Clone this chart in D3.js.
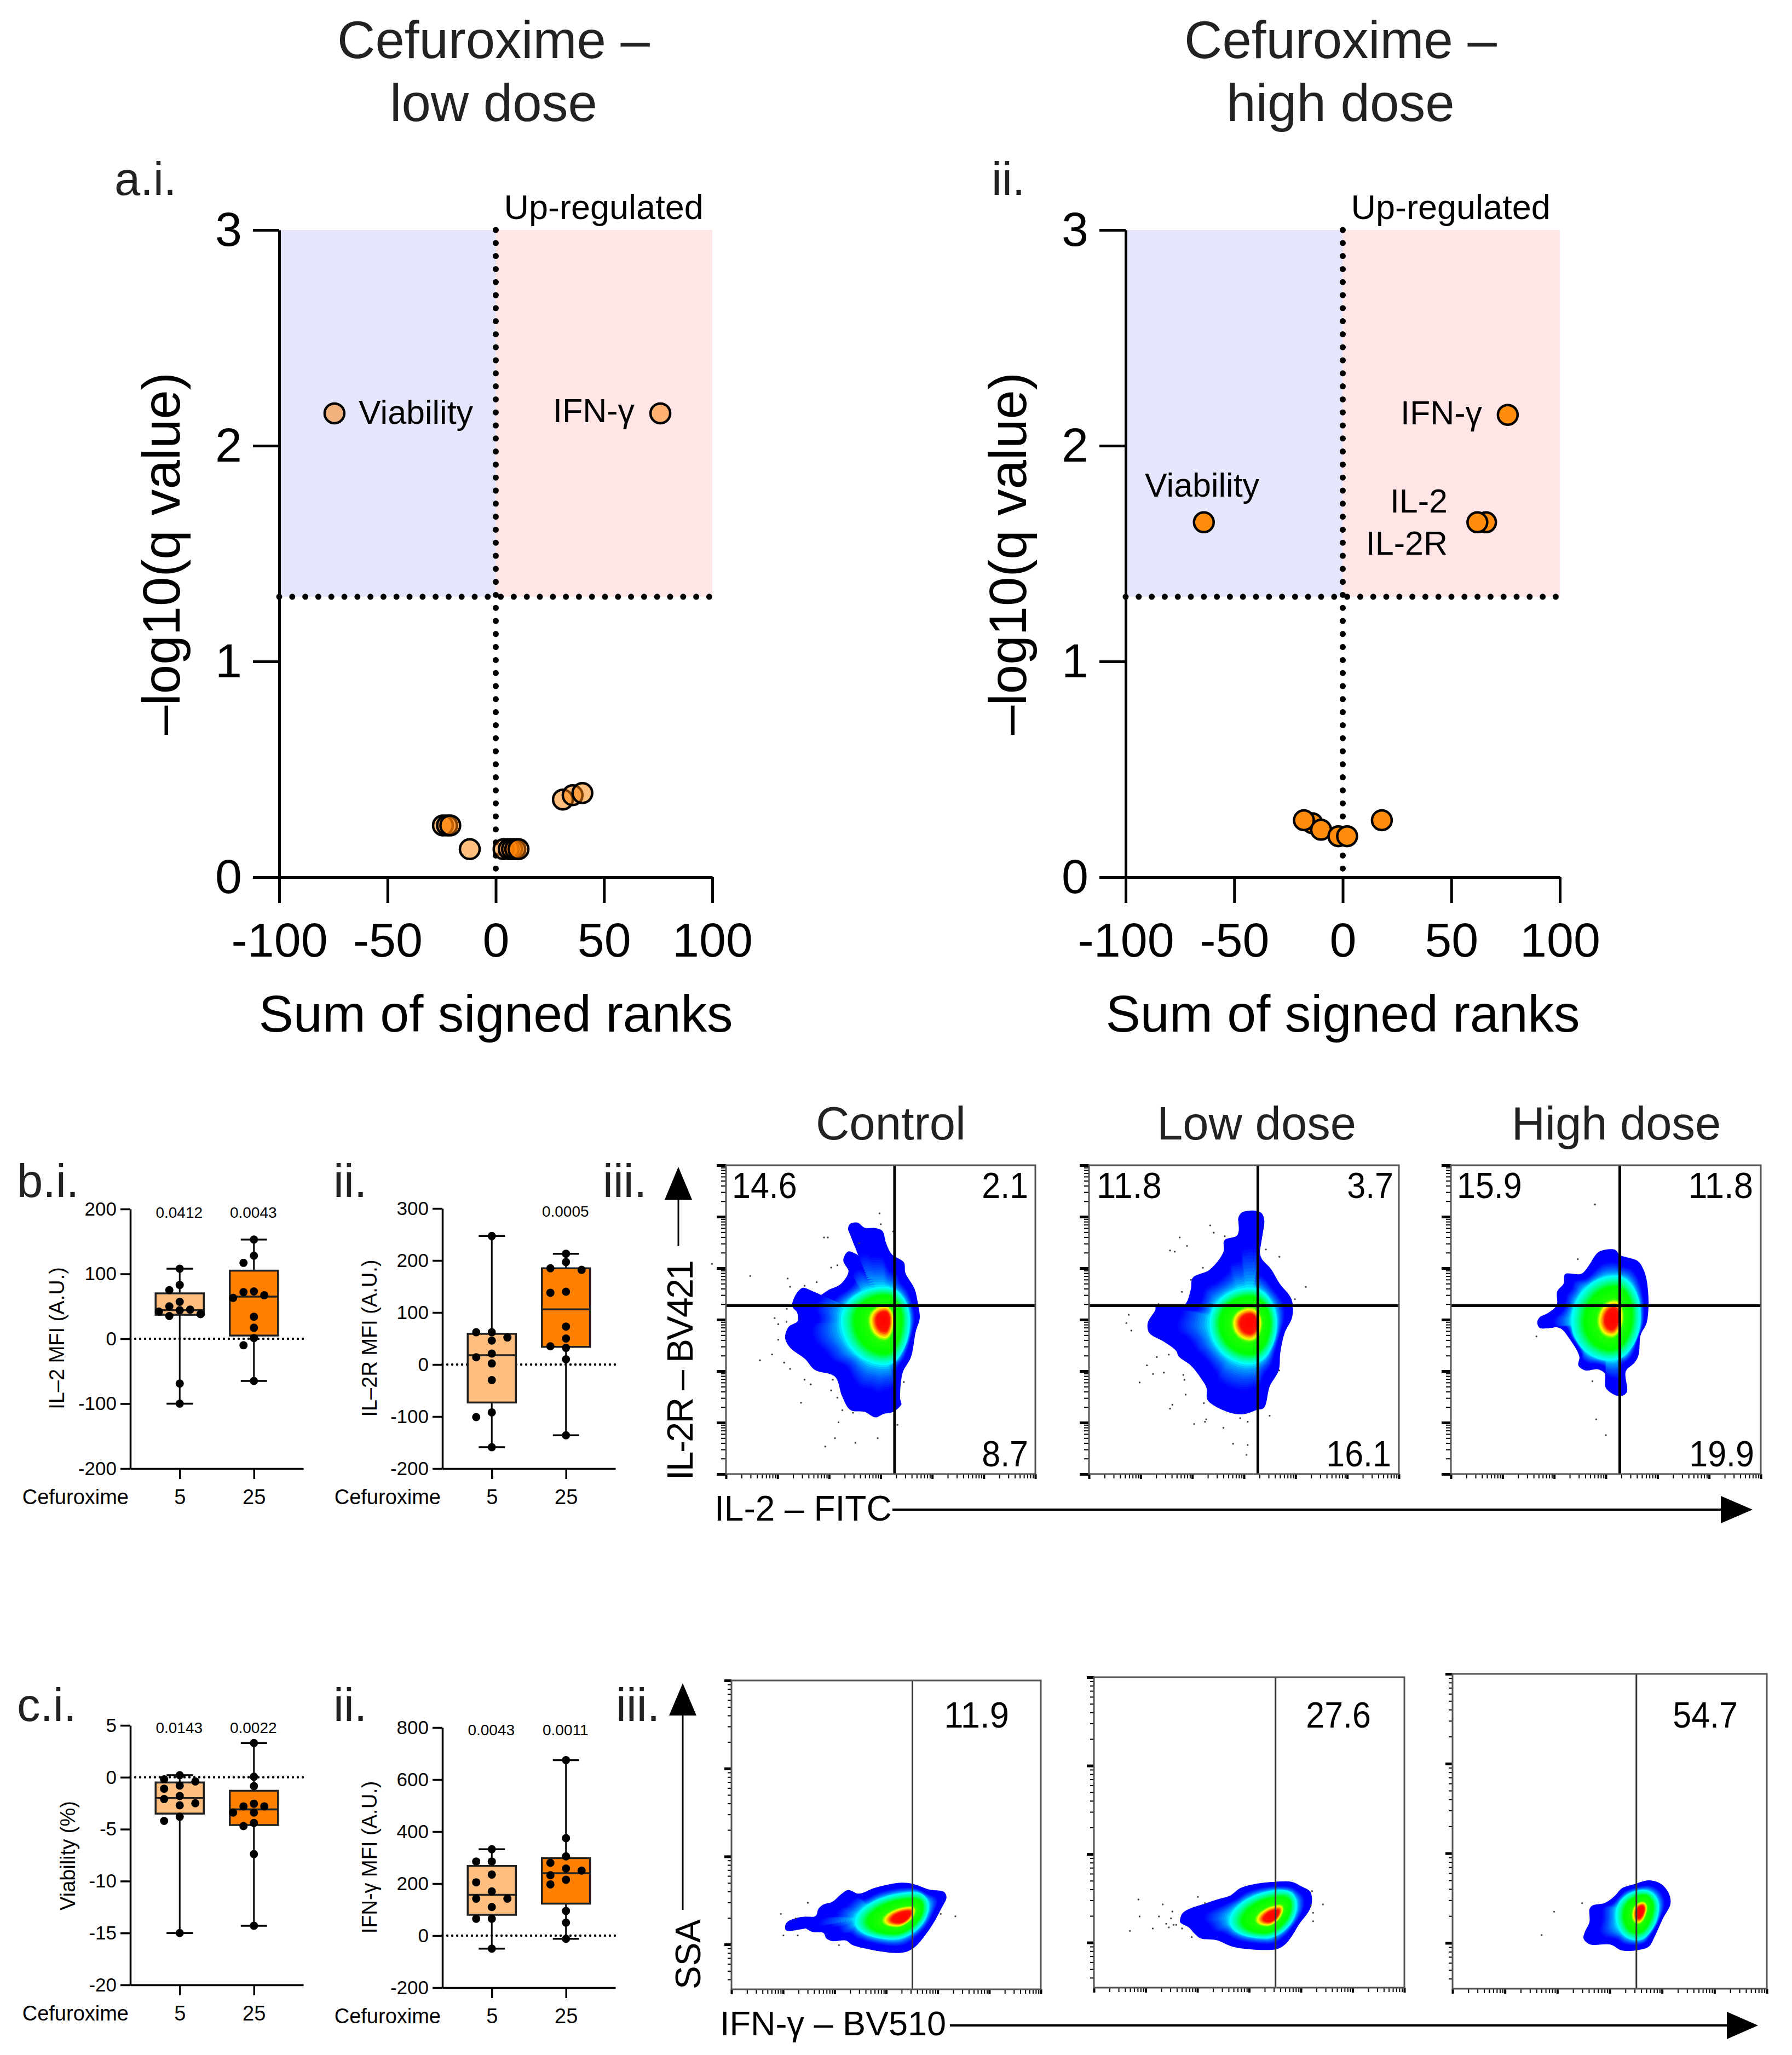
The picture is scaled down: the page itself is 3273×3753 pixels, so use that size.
<!DOCTYPE html>
<html>
<head>
<meta charset="utf-8">
<title>Cefuroxime</title>
<script src="https://cdn.jsdelivr.net/npm/d3@7"></script>
<style>
  body { margin: 0; background: #fff; }
  text { font-family: "Liberation Sans", Arial, sans-serif; fill: #000; }
  .domainless .domain { display: none; }
</style>
</head>
<body>
<svg id="fig" width="3273" height="3753"></svg>
<script>
// --- volcano plots
var lowRanks  = [-74.5, 76, -24.4, -22.5, -21, -12, 3.6, 6, 7.5, 9, 10.5, 31, 35.5, 40];
var lowQ      = [2.15, 2.15, 0.24, 0.24, 0.24, 0.13, 0.13, 0.13, 0.13, 0.13, 0.13, 0.36, 0.38, 0.39];
var highRanks = [-64, 76, 66, 62, -14, -17.9, -10, -2, 2, 18];
var highQ     = [1.645, 2.143, 1.645, 1.645, 0.25, 0.264, 0.22, 0.19, 0.19, 0.264];
var rankTicks = [-100, -50, 0, 50, 100];
var qTicks    = [0, 1, 2, 3];
var qCutoff   = 1.3;

// --- box plots, doses 5 and 25
var doses = ["5", "25"];

var il2Low   = [108, 83, 75, 57, 50, 45, 44, 42, 38, 35, -69, -100];
var il2High  = [153, 128, 117, 73, 72, 67, 63, 34, 17, 1, -10, -65];
var il2Q1    = [37, 5];
var il2Med   = [44, 65];
var il2Q3    = [70, 105];
var il2Ticks = [-200, -100, 0, 100, 200];
var il2P     = ["0.0412", "0.0043"];

var il2rLow   = [247, 62, 62, 52, 46, 21, 14, 2, -30, -92, -101, -159];
var il2rHigh  = [213, 197, 185, 182, 140, 138, 73, 50, 35, 32, 10, -136];
var il2rQ1    = [-73, 34];
var il2rMed   = [18, 106];
var il2rQ3    = [59, 185];
var il2rTicks = [-200, -100, 0, 100, 200, 300];
var il2rP     = ["", "0.0005"];

var viaLow   = [0.2, -0.2, -0.4, -0.8, -1.1, -1.8, -2.1, -2.5, -2.7, -3.8, -4.2, -15];
var viaHigh  = [3.3, 0.05, -0.85, -2.55, -2.8, -2.8, -3.4, -3.4, -4.4, -4.7, -7.4, -14.3];
var viaQ1    = [-3.5, -4.6];
var viaMed   = [-2, -3.1];
var viaQ3    = [-0.5, -1.3];
var viaTicks = [-20, -15, -10, -5, 0, 5];
var viaP     = ["0.0143", "0.0022"];

var ifnLow   = [332, 285, 285, 235, 205, 170, 142, 142, 110, 65, 65, -50];
var ifnHigh  = [675, 375, 305, 280, 258, 250, 232, 215, 197, 95, 50, -12];
var ifnQ1    = [80, 123];
var ifnMed   = [157, 240];
var ifnQ3    = [268, 298];
var ifnTicks = [-200, 0, 200, 400, 600, 800];
var ifnP     = ["0.0043", "0.0011"];

// --- flow plots. Outlines are read in gate channels of a plot window
var controlOutline = [[620,125],[630,97],[660,92],[690,118],[735,120],[765,135],[780,195],[805,255],[855,295],[862,350],[900,430],[915,510],[922,580],[905,650],[885,780],[850,860],[840,1000],[845,1020],[810,1060],[770,1070],[735,1088],[690,1060],[630,1050],[595,980],[565,880],[480,845],[440,790],[375,730],[355,680],[370,625],[408,595],[405,550],[385,520],[400,460],[430,425],[460,440],[485,472],[540,435],[590,405],[622,340],[600,285],[620,240],[650,250],[690,278],[705,240],[680,175],[630,145]];
var controlEvents  = [[753,45],[758,100],[810,137],[519,168],[535,168],[667,198],[575,310],[549,322],[47,303],[208,365],[366,378],[488,396],[437,415],[376,420],[362,533],[311,580],[326,611],[361,599],[326,691],[300,766],[249,796],[351,808],[376,840],[437,895],[463,919],[556,895],[549,950],[575,987],[422,1013],[596,1051],[641,1064],[580,1113],[828,1126],[855,907],[565,1194],[745,1194],[651,1218],[524,1237]];

var lowOutline = [[755,270],[770,242],[800,232],[850,232],[875,245],[887,280],[880,325],[858,350],[862,405],[872,470],[920,525],[965,600],[1025,680],[1028,770],[990,850],[968,950],[960,1040],[915,1120],[885,1230],[850,1240],[780,1262],[700,1250],[600,1190],[595,1130],[570,1085],[515,1015],[455,970],[440,940],[380,895],[305,850],[297,800],[335,735],[340,710],[480,710],[515,630],[525,570],[610,530],[680,440],[685,380],[750,355],[758,300]];
var lowEvents  = [[613,305],[631,342],[687,360],[459,366],[496,409],[410,432],[434,438],[895,427],[963,464],[576,520],[516,581],[470,642],[1097,617],[1042,679],[352,704],[201,758],[189,800],[214,838],[343,972],[404,960],[293,1014],[324,1058],[379,1051],[477,1063],[483,1088],[256,1101],[489,1163],[581,1206],[422,1214],[410,1234],[593,1288],[587,1300],[532,1312],[680,1331],[765,1282],[803,1300],[914,1270],[729,1412],[803,1418],[797,1468],[962,1040]];

var highOutline = [[725,465],[750,438],[830,428],[855,455],[945,485],[975,530],[990,580],[1000,690],[990,800],[960,860],[950,960],[930,1000],[885,1045],[890,1150],[860,1170],[820,1160],[782,1125],[782,1060],[745,1035],[680,1040],[645,1015],[650,970],[600,880],[550,825],[450,825],[437,795],[450,770],[490,750],[535,710],[538,640],[570,600],[578,552],[660,550],[700,505]];
var highEvents  = [[729,199],[642,476],[433,868],[716,1095],[735,1288],[784,1368]];

var ifnCtrlOutline = [[272,410],[285,388],[330,368],[380,362],[395,368],[428,355],[440,318],[465,295],[510,280],[555,238],[590,215],[645,235],[720,205],[780,188],[860,175],[920,182],[1000,212],[1075,225],[1088,255],[1060,320],[1020,400],[975,470],[925,530],[880,555],[830,560],[720,545],[610,515],[580,492],[510,495],[480,480],[465,450],[410,445],[345,412],[300,440],[275,435]];
var ifnCtrlEvents  = [[386,285],[250,346],[263,464],[335,464],[544,517],[1059,346],[1133,359],[325,371]];

var ifnLowOutline = [[437,370],[450,340],[490,315],[560,290],[630,265],[690,245],[740,205],[800,185],[890,172],[1000,170],[1050,195],[1095,225],[1102,290],[1085,335],[1040,400],[1000,470],[960,520],[920,540],[790,540],[700,525],[620,490],[540,480],[510,455],[480,420],[437,392]];
var ifnLowEvents  = [[225,267],[348,294],[397,333],[526,253],[562,287],[231,360],[329,360],[390,370],[366,400],[403,406],[416,406],[379,420],[298,426],[446,426],[182,439],[495,473],[1104,221],[1159,294],[1097,300],[1109,340],[1109,386]];

var ifnHighOutline = [[690,320],[705,300],[770,285],[820,245],[855,205],[920,182],[990,162],[1050,180],[1090,230],[1100,290],[1060,375],[1020,470],[990,525],[930,545],[850,545],[800,515],[690,512],[660,480],[665,450],[690,390],[690,350]];
var ifnHighEvents  = [[653,287],[511,334],[448,462]];

// density peak and the cyan contour around it: [left, right, up, down]
var peaks = { control: [775,590], low: [815,800], high: [820,780], ifnCtrl: [870,365], ifnLow: [905,360], ifnHigh: [950,330] };
var cores = { control: [185,105,170,230], low: [205,135,180,210], high: [210,140,220,210], ifnCtrl: [240,115,137,120], ifnLow: [215,110,145,120], ifnHigh: [125,90,115,160] };
var tilts = { control: 0, low: 0, high: -0.05, ifnCtrl: -0.4, ifnLow: -0.35, ifnHigh: -0.12 };
var narrows = { control: 0.7, low: 1, high: 0.7, ifnCtrl: 0.9, ifnLow: 0.75, ifnHigh: 0.6 };

var il2Quadrants = [["14.6", "2.1", "8.7"], ["11.8", "3.7", "16.1"], ["15.9", "11.8", "19.9"]];
var ifnGated     = ["11.9", "27.6", "54.7"];
var flowTitles   = ["Control", "Low dose", "High dose"];
var il2Gate = 1862;   // both channels, row b
var ifnGate = 3236;

var svg = d3.select("#fig");
svg.append("rect").attr("width", 3273).attr("height", 3753).attr("fill", "#fff");

function label(x, y, str, size, anchor, color) {
  return svg.append("text")
    .attr("x", x).attr("y", y)
    .attr("font-size", size)
    .attr("text-anchor", anchor || "start")
    .style("fill", color || "#000")
    .text(str);
}

// the percentages sit a little condensed in the picture
function numLabel(x, y, str, anchor) {
  var natural = (str.length - 1) * 0.556 + 0.278;
  return label(x, y, str, 66, anchor)
    .attr("textLength", natural * 61)
    .attr("lengthAdjust", "spacingAndGlyphs");
}

function vlabel(x, y, str, size) {
  return svg.append("text")
    .attr("transform", "translate(" + x + "," + y + ") rotate(-90)")
    .attr("font-size", size)
    .attr("text-anchor", "middle")
    .text(str);
}

function styleAxis(g, width, size) {
  g.selectAll("path,line").attr("stroke", "#000").attr("stroke-width", width);
  g.selectAll("text").attr("font-size", size).attr("font-family", '"Liberation Sans", Arial, sans-serif').style("fill", "#000");
}

// volcano plots
function volcano(left, right, title, ranks, qs, fill, opacity, labels) {
  var top = 420, bottom = 1602;
  var x = d3.scaleLinear().domain([-100, 100]).range([left, right]);
  var y = d3.scaleLinear().domain([0, 3]).range([bottom, top]);

  svg.append("rect").attr("x", x(-100)).attr("y", y(3))
    .attr("width", x(0) - x(-100)).attr("height", y(qCutoff) - y(3)).attr("fill", "#e5e5fb");
  svg.append("rect").attr("x", x(0)).attr("y", y(3))
    .attr("width", x(100) - x(0)).attr("height", y(qCutoff) - y(3)).attr("fill", "#ffe5e5");

  var xAxis = svg.append("g").attr("transform", "translate(0," + bottom + ")")
    .call(d3.axisBottom(x).tickValues(rankTicks).tickFormat(String).tickSize(47).tickSizeOuter(0).tickPadding(36));
  var yAxis = svg.append("g").attr("transform", "translate(" + left + ",0)")
    .call(d3.axisLeft(y).tickValues(qTicks).tickFormat(String).tickSize(48).tickSizeOuter(0).tickPadding(20));
  styleAxis(xAxis, 5, 88);
  styleAxis(yAxis, 5, 88);

  // dotted cut-offs
  svg.append("line").attr("x1", x(0)).attr("x2", x(0)).attr("y1", y(3)).attr("y2", y(0))
    .attr("stroke", "#000").attr("stroke-width", 11).attr("stroke-linecap", "round").attr("stroke-dasharray", "0 23.8");
  svg.append("line").attr("x1", x(-100)).attr("x2", x(100)).attr("y1", y(qCutoff)).attr("y2", y(qCutoff))
    .attr("stroke", "#000").attr("stroke-width", 11).attr("stroke-linecap", "round").attr("stroke-dasharray", "0 23.8");

  svg.append("g").selectAll("circle").data(ranks).enter().append("circle")
    .attr("cx", function (d) { return x(d); })
    .attr("cy", function (d, i) { return y(qs[i]); })
    .attr("r", 18)
    .attr("fill", fill)
    .attr("fill-opacity", opacity)
    .attr("stroke", "#000")
    .attr("stroke-width", 4.5);

  label(x(0), 106, "Cefuroxime –", 96, "middle", "#222").attr("dx", -4);
  label(x(0), 221, title, 96, "middle", "#222").attr("dx", -4);
  label(x(0) + 15, 400, "Up-regulated", 63);
  label(x(0), 1884, "Sum of signed ranks", 95, "middle");
  vlabel(left - 182, 1011, "–log10(q value)", 96);

  labels.forEach(function (l) { label(l[0], l[1], l[2], 61, l[3]); });
}

volcano(510, 1301, "low dose", lowRanks, lowQ, "#ff8000", 0.5, [
  [655, 774, "Viability"], [1010, 771, "IFN-γ"]
]);
volcano(2056, 2849, "high dose", highRanks, highQ, "#ff8c0a", 1, [
  [2091, 907, "Viability"], [2558, 775, "IFN-γ"], [2644, 936, "IL-2", "end"], [2644, 1013, "IL-2R", "end"]
]);
label(209, 356, "a.i.", 85, "start", "#222");
label(1811, 356, "ii.", 85, "start", "#222");

// spreads tied dots sideways into columns, nearest the middle first
function swarm(values, y) {
  var tryCols = [{ step: 28.5, cols: [0, -1, 1] }, { step: 19, cols: [0, -1, 1, -2, 2] }];
  for (var t = 0; t < tryCols.length; t++) {
    var placed = [], ok = true;
    values.slice().sort(d3.descending).forEach(function (v) {
      var py = y(v), spot = null;
      tryCols[t].cols.forEach(function (c) {
        if (spot !== null) return;
        var free = placed.every(function (p) {
          return Math.hypot(p.dx - c * tryCols[t].step, p.py - py) >= 14.5;
        });
        if (free) spot = c;
      });
      if (spot === null) { ok = false; spot = 0; }
      placed.push({ py: py, dx: spot * tryCols[t].step });
    });
    if (ok || t === tryCols.length - 1) return placed;
  }
}

function boxPlot(opt) {
  var y = d3.scaleLinear().domain(opt.domain).range([opt.bottom, opt.top]);
  var x = d3.scalePoint().domain(doses).range([opt.left, opt.left + 316]).padding(0.666);

  var xAxis = svg.append("g").attr("transform", "translate(0," + opt.bottom + ")")
    .call(d3.axisBottom(x).tickSize(19).tickSizeOuter(0).tickPadding(19));
  var yAxis = svg.append("g").attr("transform", "translate(" + opt.left + ",0)")
    .call(d3.axisLeft(y).tickValues(opt.ticks).tickFormat(String).tickSize(18).tickSizeOuter(0).tickPadding(7));
  styleAxis(xAxis, 3.5, 38);
  styleAxis(yAxis, 3.5, 35);

  svg.append("line").attr("x1", opt.left).attr("x2", opt.left + 316).attr("y1", y(0)).attr("y2", y(0))
    .attr("stroke", "#000").attr("stroke-width", 4.5).attr("stroke-linecap", "round").attr("stroke-dasharray", "0 9");

  doses.forEach(function (dose, i) {
    var vals = opt.values[i], cx = x(dose), g = svg.append("g");
    var ext = d3.extent(vals);
    g.append("line").attr("x1", cx).attr("x2", cx).attr("y1", y(ext[0])).attr("y2", y(ext[1]))
      .attr("stroke", "#000").attr("stroke-width", 3);
    ext.forEach(function (v) {
      g.append("line").attr("x1", cx - 24).attr("x2", cx + 24).attr("y1", y(v)).attr("y2", y(v))
        .attr("stroke", "#000").attr("stroke-width", 3.5);
    });
    g.append("rect").attr("x", cx - 44).attr("width", 88)
      .attr("y", y(opt.q3[i])).attr("height", y(opt.q1[i]) - y(opt.q3[i]))
      .attr("fill", i === 0 ? "#ffbf80" : "#ff8000")
      .attr("stroke", "#222").attr("stroke-width", 3.5);
    g.append("line").attr("x1", cx - 44).attr("x2", cx + 44).attr("y1", y(opt.med[i])).attr("y2", y(opt.med[i]))
      .attr("stroke", "#222").attr("stroke-width", 3.5);
    g.selectAll("circle").data(swarm(vals, y)).enter().append("circle")
      .attr("cx", function (d) { return cx + d.dx; })
      .attr("cy", function (d) { return d.py; })
      .attr("r", 7.5).attr("fill", "#000");
    label(cx - 1, opt.pY, opt.p[i], 28, "middle");
  });

  label(opt.left - 3, opt.bottom + 19 + 19 + 27, "Cefuroxime", 38, "end");
  vlabel(opt.labelX, opt.labelY, opt.ylabel, 38);
}

boxPlot({ left: 238, top: 2208, bottom: 2682, domain: [-200, 200], ticks: il2Ticks, values: [il2Low, il2High],
  q1: il2Q1, med: il2Med, q3: il2Q3, p: il2P, pY: 2224, ylabel: "IL–2 MFI (A.U.)", labelX: 117, labelY: 2444 });
boxPlot({ left: 808, top: 2207, bottom: 2682, domain: [-200, 300], ticks: il2rTicks, values: [il2rLow, il2rHigh],
  q1: il2rQ1, med: il2rMed, q3: il2rQ3, p: il2rP, pY: 2222, ylabel: "IL–2R MFI (A.U.)", labelX: 688, labelY: 2444 });
boxPlot({ left: 238, top: 3151, bottom: 3625, domain: [-20, 5], ticks: viaTicks, values: [viaLow, viaHigh],
  q1: viaQ1, med: viaMed, q3: viaQ3, p: viaP, pY: 3165, ylabel: "Viability (%)", labelX: 137, labelY: 3389 });
boxPlot({ left: 808, top: 3155, bottom: 3630, domain: [-200, 800], ticks: ifnTicks, values: [ifnLow, ifnHigh],
  q1: ifnQ1, med: ifnMed, q3: ifnQ3, p: ifnP, pY: 3169, ylabel: "IFN-γ MFI (A.U.)", labelX: 688, labelY: 3392 });

label(31, 2186, "b.i.", 85, "start", "#222");
label(609, 2186, "ii.", 85, "start", "#222");
label(1101, 2186, "iii.", 85, "start", "#222");
label(31, 3143, "c.i.", 85, "start", "#222");
label(609, 3143, "ii.", 85, "start", "#222");
label(1125, 3143, "iii.", 85, "start", "#222");

// pseudo-colour density: contours step from the outline in to the peak
var outerColor = d3.scaleLinear().domain([0, 0.45, 0.7, 0.88, 1]).range(["#0000ff", "#0000ff", "#0050ff", "#00a0ff", "#00ffff"]);
var coreColor = d3.scaleLinear().domain([1, 0.88, 0.76, 0.48, 0.4, 0.34, 0.27, 0]).range(["#00ffff", "#00ff90", "#00ff00", "#20ff00", "#ffff00", "#ff9000", "#ff1000", "#ff0000"]);
var contourLine = d3.line().curve(d3.curveCatmullRomClosed);

function windowScales(win) {
  return {
    x: d3.scaleLinear().domain([0, win.chX]).range([win.x, win.x + win.w]),
    y: d3.scaleLinear().domain([0, win.chY]).range([win.y, win.y + win.h])
  };
}

function density(g, win, outline, key) {
  var ch = windowScales(win);
  var peak = peaks[key], core = cores[key], tilt = tilts[key], narrow = narrows[key];

  // tilt and narrowing grow towards the red centre
  function corePoint(theta, c) {
    var co = Math.cos(theta), si = Math.sin(theta);
    var dx = co * (co < 0 ? core[0] : core[1]) * (1 - (1 - narrow) * (1 - c));
    var dy = si * (si < 0 ? core[2] : core[3]);
    return [peak[0] + c * (dx + tilt * (2 - c) * dy), peak[1] + c * dy];
  }
  function draw(points, color) {
    g.append("path")
      .attr("d", contourLine(points.map(function (p) { return [ch.x(p[0]), ch.y(p[1])]; })))
      .attr("fill", color);
  }

  d3.range(0, 1.001, 1 / 24).forEach(function (s) {
    var pts = outline.map(function (v) {
      var e = corePoint(Math.atan2(v[1] - peak[1], v[0] - peak[0]), 1);
      return [v[0] + s * (e[0] - v[0]), v[1] + s * (e[1] - v[1])];
    });
    draw(pts, outerColor(s));
  });
  d3.range(1, 0.02, -1 / 32).forEach(function (c) {
    var pts = d3.range(0, 2 * Math.PI, Math.PI / 18).map(function (a) { return corePoint(a, c); });
    draw(pts, coreColor(c));
  });
}

function flowAxes(g, x, y, majorY, minorY, majorX, minorX, frame) {
  var decades = d3.range(0, 6);
  var majors = decades.map(function (k) { return Math.pow(10, k); }).concat([1e6]);
  var minors = [];
  decades.forEach(function (k) {
    d3.range(2, 10).forEach(function (m) { minors.push(m * Math.pow(10, k)); });
  });
  var inY = function (v) { return v >= y.domain()[0]; };

  var ax = g.append("g").attr("class", "domainless").attr("transform", "translate(0," + frame.bottom + ")");
  ax.call(d3.axisBottom(x).tickValues(minors).tickSize(minorX).tickFormat(""));
  styleAxis(ax, 2, 10);
  var axM = g.append("g").attr("class", "domainless").attr("transform", "translate(0," + frame.bottom + ")");
  axM.call(d3.axisBottom(x).tickValues(majors).tickSize(majorX).tickFormat(""));
  styleAxis(axM, 4, 10);

  var ay = g.append("g").attr("class", "domainless").attr("transform", "translate(" + frame.left + ",0)");
  ay.call(d3.axisLeft(y).tickValues(minors.filter(inY)).tickSize(minorY).tickFormat(""));
  styleAxis(ay, 2, 10);
  var ayM = g.append("g").attr("class", "domainless").attr("transform", "translate(" + frame.left + ",0)");
  ayM.call(d3.axisLeft(y).tickValues(majors.filter(inY)).tickSize(majorY).tickFormat(""));
  styleAxis(ayM, 5, 10);
}

function flowPlot(opt) {
  var g = svg.append("g");
  var f = opt.frame;
  var x = d3.scaleLog().domain([1, 1e6]).range([f.left, f.right]);
  var y = d3.scaleLog().domain(opt.yDomain).range([f.bottom, f.top]);
  var ch = windowScales(opt.win);

  density(g, opt.win, opt.outline, opt.key);

  g.append("g").selectAll("circle").data(opt.events).enter().append("circle")
    .attr("cx", function (d) { return ch.x(d[0]); })
    .attr("cy", function (d) { return ch.y(d[1]); })
    .attr("r", 1.7)
    .attr("fill", "#444");

  g.append("line").attr("x1", x(opt.gateX)).attr("x2", x(opt.gateX)).attr("y1", f.top).attr("y2", f.bottom)
    .attr("stroke", opt.gateColor).attr("stroke-width", opt.gateWidth);
  if (opt.gateY) {
    g.append("line").attr("x1", f.left).attr("x2", f.right).attr("y1", y(opt.gateY)).attr("y2", y(opt.gateY))
      .attr("stroke", "#000").attr("stroke-width", 5);
  }

  flowAxes(g, x, y, opt.majorY, opt.minorY, 9, 8, f);

  g.append("rect").attr("x", f.left).attr("y", f.top)
    .attr("width", f.right - f.left).attr("height", f.bottom - f.top)
    .attr("fill", "none").attr("stroke", "#555").attr("stroke-width", 3);
}

function arrow(x1, y1, x2, y2, head, half, width) {
  var horizontal = y1 === y2;
  svg.append("line").attr("x1", x1).attr("y1", y1).attr("x2", x2).attr("y2", y2)
    .attr("stroke", "#000").attr("stroke-width", width);
  var p = d3.path();
  if (horizontal) {
    p.moveTo(x2 + head, y2); p.lineTo(x2, y2 - half); p.lineTo(x2, y2 + half);
  } else {
    p.moveTo(x2, y2 - head); p.lineTo(x2 - half, y2); p.lineTo(x2 + half, y2);
  }
  p.closePath();
  svg.append("path").attr("d", p.toString()).attr("fill", "#000");
}

// row b: IL-2 against IL-2R
var rowB = [
  { left: 1326, right: 1891, win: { x: 1280, y: 2200, w: 680, h: 560, chX: 1568, chY: 1568 }, outline: controlOutline, events: controlEvents, key: "control", tx: 1627, nums: [1337, 1878, 1878] },
  { left: 1989, right: 2555, win: { x: 1989, y: 2128, w: 566, h: 565, chX: 1568, chY: 1568 }, outline: lowOutline, events: lowEvents, key: "low", tx: 2295, nums: [2003, 2545, 2541] },
  { left: 2650, right: 3216, win: { x: 2650, y: 2128, w: 566, h: 565, chX: 1568, chY: 1568 }, outline: highOutline, events: highEvents, key: "high", tx: 2952, nums: [2661, 3202, 3204] }
];
rowB.forEach(function (r, i) {
  flowPlot({ frame: { left: r.left, right: r.right, top: 2128, bottom: 2692 }, yDomain: [1, 1e6], win: r.win,
    outline: r.outline, events: r.events, key: r.key, gateX: il2Gate, gateY: il2Gate, gateColor: "#000", gateWidth: 5,
    majorY: 17, minorY: 9 });
  label(r.tx, 2081, flowTitles[i], 85, "middle", "#222");
  numLabel(r.nums[0], 2188, il2Quadrants[i][0]);
  numLabel(r.nums[1], 2188, il2Quadrants[i][1], "end");
  numLabel(r.nums[2], 2678, il2Quadrants[i][2], "end");
});

// row c: IFN-γ against SSA
var rowC = [
  { left: 1336, right: 1901, top: 3069, bottom: 3633, win: { x: 1336, y: 3380, w: 566, h: 253, chX: 1568, chY: 759 }, outline: ifnCtrlOutline, events: ifnCtrlEvents, key: "ifnCtrl", num: 1843 },
  { left: 1998, right: 2565, top: 3063, bottom: 3630, win: { x: 1998, y: 3380, w: 566, h: 253, chX: 1568, chY: 759 }, outline: ifnLowOutline, events: ifnLowEvents, key: "ifnLow", num: 2504 },
  { left: 2653, right: 3227, top: 3057, bottom: 3632, win: { x: 2654, y: 3380, w: 566, h: 253, chX: 1568, chY: 759 }, outline: ifnHighOutline, events: ifnHighEvents, key: "ifnHigh", num: 3174 }
];
rowC.forEach(function (r, i) {
  flowPlot({ frame: r, yDomain: [Math.pow(10, 2.49), 1e6], win: r.win,
    outline: r.outline, events: r.events, key: r.key, gateX: ifnGate, gateColor: "#333", gateWidth: 3,
    majorY: 13, minorY: 7 });
  numLabel(r.num, 3155, ifnGated[i], "end");
});

// channel arrows and names
arrow(1239, 2275, 1239, 2191, 60, 25, 3);
vlabel(1265, 2502, "IL-2R – BV421", 66).attr("textLength", 402).attr("lengthAdjust", "spacing");
label(1305, 2777, "IL-2 – FITC", 64);
arrow(1630, 2757, 3143, 2757, 58, 25, 4);

arrow(1247, 3488, 1247, 3133, 59, 25, 3);
vlabel(1279, 3569, "SSA", 64);
label(1315, 3717, "IFN-γ – BV510", 63);
arrow(1735, 3699, 3154, 3699, 57, 25, 4);
</script>
</body>
</html>
